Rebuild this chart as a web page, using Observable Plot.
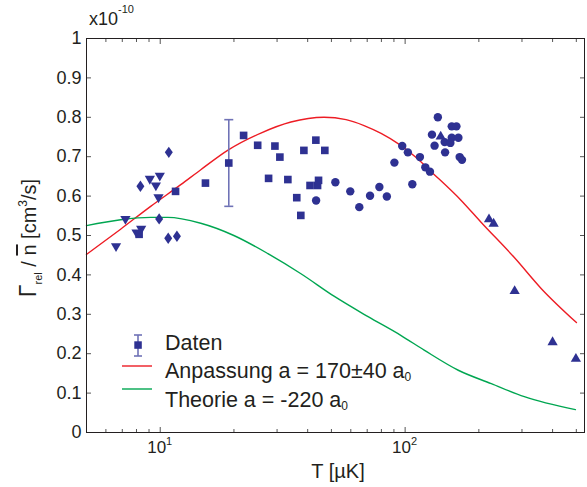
<!DOCTYPE html>
<html><head><meta charset="utf-8">
<script src="https://cdn.jsdelivr.net/npm/d3@7"></script>
<script src="https://cdn.jsdelivr.net/npm/@observablehq/plot@0.6"></script>
<style>body{margin:0;background:#fff} svg{display:block}</style>
</head><body><div id="chart"></div>
<script>
// ---- data (T in µK, rate in units of 1e-10 cm^3/s) ----
const triDownT = [9.07, 9.96, 9.6, 9.84, 7.21, 8.0, 8.36, 6.6];
const triDownY = [0.644, 0.652, 0.627, 0.597, 0.542, 0.508, 0.517, 0.473];
const diamondT = [10.84, 8.3, 9.9, 10.78, 11.7];
const diamondY = [0.711, 0.625, 0.542, 0.493, 0.498];
const squareT = [8.2, 11.55, 15.3, 19.05, 21.9, 25.0, 29.4, 30.8, 27.7, 33.2, 36.1, 37.5, 38.6, 43.2, 47.0, 40.9, 43.9, 44.3];
const squareY = [0.503, 0.612, 0.633, 0.684, 0.754, 0.729, 0.727, 0.699, 0.645, 0.642, 0.596, 0.551, 0.716, 0.742, 0.716, 0.627, 0.627, 0.64];
const circleT = [43.3, 51.9, 59.7, 65.0, 71.9, 78.5, 84.2, 90.4, 97.3, 102.6, 107, 114.9, 120.9, 126.3, 128.7, 136, 131.9, 145, 155, 162, 155, 165, 153, 145.6, 167, 170.7];
const circleY = [0.589, 0.635, 0.612, 0.572, 0.601, 0.623, 0.599, 0.685, 0.727, 0.711, 0.63, 0.699, 0.673, 0.662, 0.756, 0.80, 0.728, 0.737, 0.777, 0.777, 0.748, 0.748, 0.735, 0.711, 0.699, 0.692];
const triUpT = [139.7, 220, 229.8, 280, 400, 498];
const triUpY = [0.751, 0.541, 0.53, 0.359, 0.229, 0.187];
const errT = [19.05];
const errLo = [0.574];
const errHi = [0.794];
const fitT = [5.0, 6.89, 9.14, 12.13, 14.64, 19.05, 25.76, 34.18, 46.64, 57.37, 67.97, 79.78, 93.6, 110.9, 127.8, 169.4, 204.6, 279.2, 359.9, 500.6];
const fitY = [0.452, 0.516, 0.574, 0.629, 0.667, 0.718, 0.76, 0.788, 0.800, 0.794, 0.779, 0.759, 0.733, 0.698, 0.662, 0.589, 0.533, 0.444, 0.365, 0.279];
const theoT = [5.0, 6.89, 9.14, 10.73, 14.64, 19.98, 27.53, 37.55, 51.24, 70.58, 96.3, 119.6, 164.8, 224.8, 306.7, 495.8];
const theoY = [0.525, 0.54, 0.546, 0.546, 0.531, 0.5, 0.454, 0.403, 0.346, 0.294, 0.246, 0.209, 0.158, 0.124, 0.091, 0.058];
const yTicks = [0, 0.1, 0.2, 0.3, 0.4, 0.5, 0.6, 0.7, 0.8, 0.9, 1];
const xMajor = [10, 100];
const xMajorLabels = ["10", "10"];
const xMajorExp = ["1", "2"];
const xMinor = [6, 7, 8, 9, 20, 30, 40, 50, 60, 70, 80, 90, 200, 300, 400, 500];

const pts = (T, Y) => T.map((t, i) => ({t, y: Y[i]}));
const navy = "#2e3192";
const errColor = "#6f72b6";
const red = "#ed1c24";
const green = "#00a651";
const tickColor = "#555";

const triDown = {draw(ctx, size) {
  const y = Math.sqrt(size / (Math.sqrt(3) * 3));
  ctx.moveTo(0, 2 * y); ctx.lineTo(-Math.sqrt(3) * y, -y); ctx.lineTo(Math.sqrt(3) * y, -y); ctx.closePath();
}};
const diamond = {draw(ctx, size) {
  const k = Math.sqrt(size / Math.PI);
  ctx.moveTo(0, -1.35 * k); ctx.lineTo(0.95 * k, 0); ctx.lineTo(0, 1.35 * k); ctx.lineTo(-0.95 * k, 0); ctx.closePath();
}};
const hcap = {draw(ctx, size) { ctx.moveTo(-4.5, 0); ctx.lineTo(4.5, 0); }};

const errData = errT.map((t, i) => ({t, lo: errLo[i], hi: errHi[i]}));

const plot = Plot.plot({
  width: 587, height: 487,
  marginLeft: 86, marginRight: 3, marginTop: 38, marginBottom: 55,
  x: {type: "log", domain: [5, 540]},
  y: {domain: [0, 1]},
  style: {fontFamily: "'Liberation Sans', Arial, Helvetica, sans-serif", background: "white", color: "#231f20"},
  marks: [
    Plot.axisY(yTicks, {anchor: "left", tickSize: 0, tickPadding: 5, fontSize: 18, label: null, tickFormat: d => String(+d.toFixed(1))}),
    Plot.axisY(yTicks, {anchor: "left", tickSize: -5, stroke: tickColor, label: null, tickFormat: () => ""}),
    Plot.axisY(yTicks, {anchor: "right", tickSize: -5, stroke: tickColor, label: null, tickFormat: () => ""}),
    Plot.axisX(xMajor, {anchor: "bottom", tickSize: -5, stroke: tickColor, label: null, tickFormat: () => ""}),
    Plot.axisX(xMinor, {anchor: "bottom", tickSize: -3, stroke: tickColor, label: null, tickFormat: () => ""}),
    Plot.axisX(xMajor, {anchor: "top", tickSize: -5, stroke: tickColor, label: null, tickFormat: () => ""}),
    Plot.axisX(xMinor, {anchor: "top", tickSize: -3, stroke: tickColor, label: null, tickFormat: () => ""}),
    Plot.line(pts(fitT, fitY), {x: "t", y: "y", stroke: red, strokeWidth: 1.4, curve: "monotone-x"}),
    Plot.line(pts(theoT, theoY), {x: "t", y: "y", stroke: green, strokeWidth: 1.4, curve: "monotone-x"}),
    Plot.ruleX(errData, {x: "t", y1: "lo", y2: "hi", stroke: errColor, strokeWidth: 1.6}),
    Plot.dot(errData, {x: "t", y: "lo", symbol: hcap, stroke: errColor, strokeWidth: 1.6, fill: "none"}),
    Plot.dot(errData, {x: "t", y: "hi", symbol: hcap, stroke: errColor, strokeWidth: 1.6, fill: "none"}),
    Plot.dot(pts(triDownT, triDownY), {x: "t", y: "y", symbol: triDown, r: 3.8, fill: navy, stroke: "none"}),
    Plot.dot(pts(diamondT, diamondY), {x: "t", y: "y", symbol: diamond, r: 4.2, fill: navy, stroke: "none"}),
    Plot.dot(pts(squareT, squareY), {x: "t", y: "y", symbol: "square", r: 4.3, fill: navy, stroke: "none"}),
    Plot.dot(pts(circleT, circleY), {x: "t", y: "y", symbol: "circle", r: 4.2, fill: navy, stroke: "none"}),
    Plot.dot(pts(triUpT, triUpY), {x: "t", y: "y", symbol: "triangle", r: 3.8, fill: navy, stroke: "none"}),
    Plot.frame({stroke: "#231f20", strokeWidth: 1})
  ]
});
document.getElementById("chart").appendChild(plot);

const svg = d3.select(plot);
const xs = plot.scale("x");
const font = "'Liberation Sans', Arial, Helvetica, sans-serif";
const g = svg.append("g").attr("font-family", font).attr("fill", "#231f20").attr("text-anchor", "start");

// x tick labels with exponent
xMajor.forEach((v, i) => {
  const t = g.append("text").attr("x", xs.apply(v)).attr("y", 453).attr("text-anchor", "middle").attr("font-size", 17);
  t.append("tspan").text(xMajorLabels[i]);
  t.append("tspan").attr("font-size", 11).attr("dy", -8).text(xMajorExp[i]);
});

// multiplier
const m = g.append("text").attr("x", 89).attr("y", 25).attr("font-size", 18).attr("text-anchor", "start");
m.append("tspan").text("x10");
m.append("tspan").attr("font-size", 11).attr("dy", -12).text("-10");

// x label
g.append("text").attr("x", 338).attr("y", 478).attr("text-anchor", "middle").attr("font-size", 20).text("T [\u00b5K]");

// y label
const yl = g.append("text").attr("transform", "translate(36,238) rotate(-90)").attr("text-anchor", "middle").attr("font-size", 20);
yl.append("tspan").attr("font-size", 23).text("\u0393");
yl.append("tspan").attr("font-size", 11).attr("dy", 6).text("rel");
yl.append("tspan").attr("dy", -6).text(" / ");
yl.append("tspan").attr("text-decoration", "overline").text("n");
yl.append("tspan").text(" [cm");
yl.append("tspan").attr("font-size", 12).attr("dy", -9).text("3");
yl.append("tspan").attr("dy", 9).text("/s]");

// legend
const lg = g.append("g").attr("text-anchor", "start");
lg.append("line").attr("x1", 138).attr("x2", 138).attr("y1", 335).attr("y2", 356).attr("stroke", errColor).attr("stroke-width", 1.6);
lg.append("line").attr("x1", 134).attr("x2", 142).attr("y1", 335).attr("y2", 335).attr("stroke", errColor).attr("stroke-width", 1.6);
lg.append("line").attr("x1", 134).attr("x2", 142).attr("y1", 356).attr("y2", 356).attr("stroke", errColor).attr("stroke-width", 1.6);
lg.append("rect").attr("x", 134.3).attr("y", 341.3).attr("width", 7.5).attr("height", 7.5).attr("fill", navy);
lg.append("text").attr("x", 165).attr("y", 350).attr("font-size", 21.5).text("Daten");
lg.append("line").attr("x1", 122).attr("x2", 152).attr("y1", 366).attr("y2", 366).attr("stroke", red).attr("stroke-width", 1.4);
const t1 = lg.append("text").attr("x", 165).attr("y", 378).attr("font-size", 21.5);
t1.append("tspan").text("Anpassung a = 170\u00b140 a");
t1.append("tspan").attr("font-size", 12).attr("dy", 3).text("0");
lg.append("line").attr("x1", 122).attr("x2", 152).attr("y1", 389).attr("y2", 389).attr("stroke", green).attr("stroke-width", 1.4);
const t2 = lg.append("text").attr("x", 165).attr("y", 407).attr("font-size", 21.5);
t2.append("tspan").text("Theorie a = -220 a");
t2.append("tspan").attr("font-size", 12).attr("dy", 3).text("0");
</script>
</body></html>
